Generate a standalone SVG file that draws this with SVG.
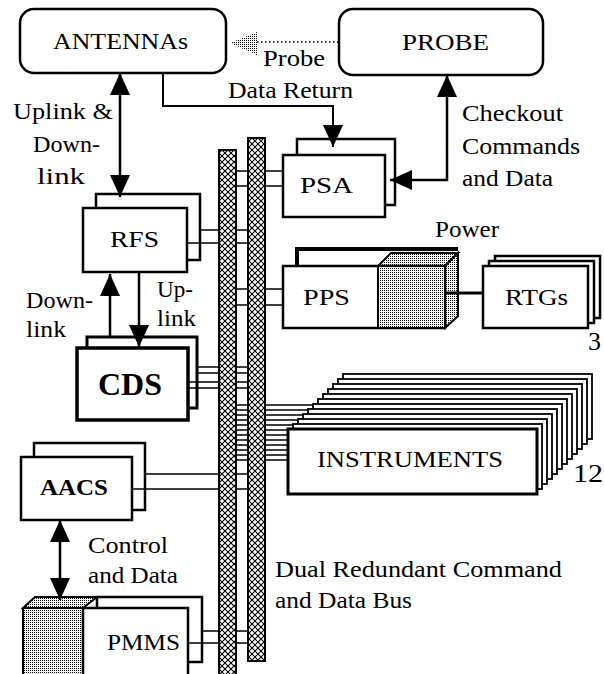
<svg xmlns="http://www.w3.org/2000/svg" width="604" height="674" viewBox="0 0 604 674">
<defs>
<style>
.bx{fill:#fff;stroke:#000;stroke-width:2.5}
.stk{fill:#fff;stroke:#000;stroke-width:1.8}
.rb{fill:#fff;stroke:#000;stroke-width:2.5}
.ln{fill:none;stroke:#000;stroke-width:1.6}
.ar{fill:none;stroke:#000;stroke-width:2.5}
.st{fill:url(#dots);stroke:#000;stroke-width:2}
.bus{fill:url(#hatch);stroke:#000;stroke-width:2}
text{font-family:"Liberation Serif","Times New Roman",serif;font-size:24px;fill:#000}
.b{font-weight:bold}
</style>
<pattern id="hatch" width="6" height="6" patternUnits="userSpaceOnUse">
<rect width="6" height="6" fill="#fff"/>
<path d="M0,0L6,6M6,0L0,6" stroke="#000" stroke-width="1.1"/>
</pattern>
<pattern id="dots" width="2" height="2" patternUnits="userSpaceOnUse">
<rect width="2" height="2" fill="#fff"/>
<rect width="1" height="1" fill="#000"/>
</pattern>
<marker id="ah" viewBox="0 0 22 20" refX="22" refY="10" markerWidth="22" markerHeight="20" markerUnits="userSpaceOnUse" orient="auto-start-reverse">
<path d="M0,0L22,10L0,20Z" fill="#000"/>
</marker>
</defs>

<g id="antennas">
<rect class="rb" x="20" y="9" width="206" height="64" rx="14"/>
<text x="53" y="49" textLength="135" lengthAdjust="spacingAndGlyphs">ANTENNAs</text>
</g>
<g id="probe">
<rect class="rb" x="339" y="9" width="204" height="66" rx="14"/>
<text x="402" y="50" textLength="87" lengthAdjust="spacingAndGlyphs">PROBE</text>
</g>
<g id="psa">
<rect class="bx" x="297" y="139" width="98" height="66"/>
<rect class="bx" x="283" y="155" width="102" height="62"/>
<text x="300" y="193" textLength="53" lengthAdjust="spacingAndGlyphs">PSA</text>
</g>
<g id="rfs">
<rect class="bx" x="96" y="194" width="104" height="66"/>
<rect class="bx" x="83" y="208" width="104" height="64"/>
<text x="110" y="247" textLength="49" lengthAdjust="spacingAndGlyphs">RFS</text>
</g>
<g id="pps">
<path d="M297,266V249H458" fill="none" stroke="#000" stroke-width="4"/>
<polygon class="st" points="378,266 391,253 458,253 445,266"/>
<polygon class="st" points="445,266 458,253 458,316 445,328"/>
<rect class="bx" x="283" y="266" width="162" height="62"/>
<rect class="st" x="378" y="266" width="67" height="62"/>
<text x="303" y="305" textLength="47" lengthAdjust="spacingAndGlyphs">PPS</text>
<text x="435" y="237" textLength="64" lengthAdjust="spacingAndGlyphs">Power</text>
</g>
<g id="rtgs">
<rect class="bx" x="495" y="256" width="105" height="62"/>
<rect class="bx" x="489" y="261" width="105" height="62"/>
<rect class="bx" x="483" y="266" width="105" height="62"/>
<text x="505" y="305" textLength="63" lengthAdjust="spacingAndGlyphs">RTGs</text>
<text x="588" y="350" style="font-size:26px">3</text>
</g>
<g id="cds">
<rect class="bx" x="87" y="337" width="110" height="71" style="stroke-width:3"/>
<rect class="bx" x="77" y="348" width="111" height="72" style="stroke-width:3.5"/>
<text class="b" x="98" y="395" style="font-size:32px" textLength="64" lengthAdjust="spacingAndGlyphs">CDS</text>
</g>
<g id="instruments">
<rect class="stk" x="343" y="374" width="249" height="65"/>
<rect class="stk" x="338" y="379" width="249" height="65"/>
<rect class="stk" x="333" y="384" width="249" height="65"/>
<rect class="stk" x="328" y="389" width="249" height="65"/>
<rect class="stk" x="323" y="394" width="249" height="65"/>
<rect class="stk" x="318" y="399" width="249" height="65"/>
<rect class="stk" x="313" y="404" width="249" height="65"/>
<rect class="stk" x="308" y="409" width="249" height="65"/>
<rect class="stk" x="303" y="414" width="249" height="65"/>
<rect class="stk" x="298" y="419" width="249" height="65"/>
<rect class="stk" x="293" y="424" width="249" height="65"/>
<rect class="bx" x="288" y="429" width="249" height="65" style="stroke-width:3"/>
<text x="317" y="467" textLength="186" lengthAdjust="spacingAndGlyphs">INSTRUMENTS</text>
<text x="573" y="482" style="font-size:26px" textLength="30" lengthAdjust="spacingAndGlyphs">12</text>
</g>
<g id="aacs">
<rect class="bx" x="34" y="443" width="111" height="67"/>
<rect class="bx" x="21" y="457" width="111" height="63"/>
<text class="b" x="40" y="495" textLength="68" lengthAdjust="spacingAndGlyphs">AACS</text>
</g>
<g id="pmms">
<rect class="bx" x="97" y="597" width="105" height="65"/>
<polygon class="st" points="23,608 35,597 97,597 83,608"/>
<rect class="st" x="23" y="608" width="60" height="80"/>
<rect class="bx" x="83" y="608" width="105" height="80"/>
<text x="107" y="650" textLength="73" lengthAdjust="spacingAndGlyphs">PMMS</text>
</g>

<g id="connectors">
<path class="ln" d="M236,171H283M236,186H283"/>
<path class="ln" d="M236,289H283M236,305H283"/>
<path class="ln" d="M236,405H313M236,410H308M236,415H303M236,420H298M236,425H293M236,430H288M236,435H288M236,440H288M236,445H288M236,450H288M236,455H288M236,460H288"/>
<path class="ln" d="M200,230H248M187,243H248"/>
<path class="ln" d="M197,367H248M197,373H248M188,382H248M188,388H248"/>
<path class="ln" d="M145,474H248M132,489H248"/>
<path class="ln" d="M202,631H248M188,643H248"/>
<line class="ar" x1="120" y1="73" x2="120" y2="197" marker-start="url(#ah)" marker-end="url(#ah)"/>
<polyline class="ar" points="163,73 163,106 333,106 333,147" marker-end="url(#ah)" style="stroke-width:2"/>
<polyline class="ar" points="390,180 447,180 447,75" marker-start="url(#ah)" marker-end="url(#ah)"/>
<line class="ar" x1="110" y1="337" x2="110" y2="274" marker-end="url(#ah)"/>
<line class="ar" x1="139" y1="272" x2="139" y2="347" marker-end="url(#ah)"/>
<line class="ar" x1="60" y1="520" x2="60" y2="600" marker-start="url(#ah)" marker-end="url(#ah)"/>
<line x1="257" y1="42" x2="339" y2="42" stroke="#000" stroke-width="1.5" stroke-dasharray="1.5,2.5"/>
<polygon points="230,43 257,32 257,55" fill="url(#dots)"/>
<path class="ln" d="M446,293H483" style="stroke-width:3"/>
<text x="263" y="66" textLength="62" lengthAdjust="spacingAndGlyphs">Probe</text>
<text x="228" y="98" textLength="125" lengthAdjust="spacingAndGlyphs">Data Return</text>
<text x="13" y="119" textLength="100" lengthAdjust="spacingAndGlyphs">Uplink &amp;</text>
<text x="33" y="152" textLength="67" lengthAdjust="spacingAndGlyphs">Down-</text>
<text x="37" y="184" textLength="48" lengthAdjust="spacingAndGlyphs">link</text>
<text x="462" y="121" textLength="101" lengthAdjust="spacingAndGlyphs">Checkout</text>
<text x="462" y="154" textLength="118" lengthAdjust="spacingAndGlyphs">Commands</text>
<text x="462" y="186" textLength="91" lengthAdjust="spacingAndGlyphs">and Data</text>
<text x="26" y="308" textLength="67" lengthAdjust="spacingAndGlyphs">Down-</text>
<text x="26" y="337" textLength="40" lengthAdjust="spacingAndGlyphs">link</text>
<text x="157" y="297" textLength="36" lengthAdjust="spacingAndGlyphs">Up-</text>
<text x="157" y="326" textLength="39" lengthAdjust="spacingAndGlyphs">link</text>
<text x="88" y="553" textLength="80" lengthAdjust="spacingAndGlyphs">Control</text>
<text x="88" y="583" textLength="90" lengthAdjust="spacingAndGlyphs">and Data</text>
</g>

<g id="bus">
<rect class="bus" x="219" y="150" width="17" height="530"/>
<rect class="bus" x="248" y="138" width="17" height="523"/>
<text x="275" y="577" textLength="287" lengthAdjust="spacingAndGlyphs">Dual Redundant Command</text>
<text x="275" y="608" textLength="137" lengthAdjust="spacingAndGlyphs">and Data Bus</text>
</g>
</svg>
